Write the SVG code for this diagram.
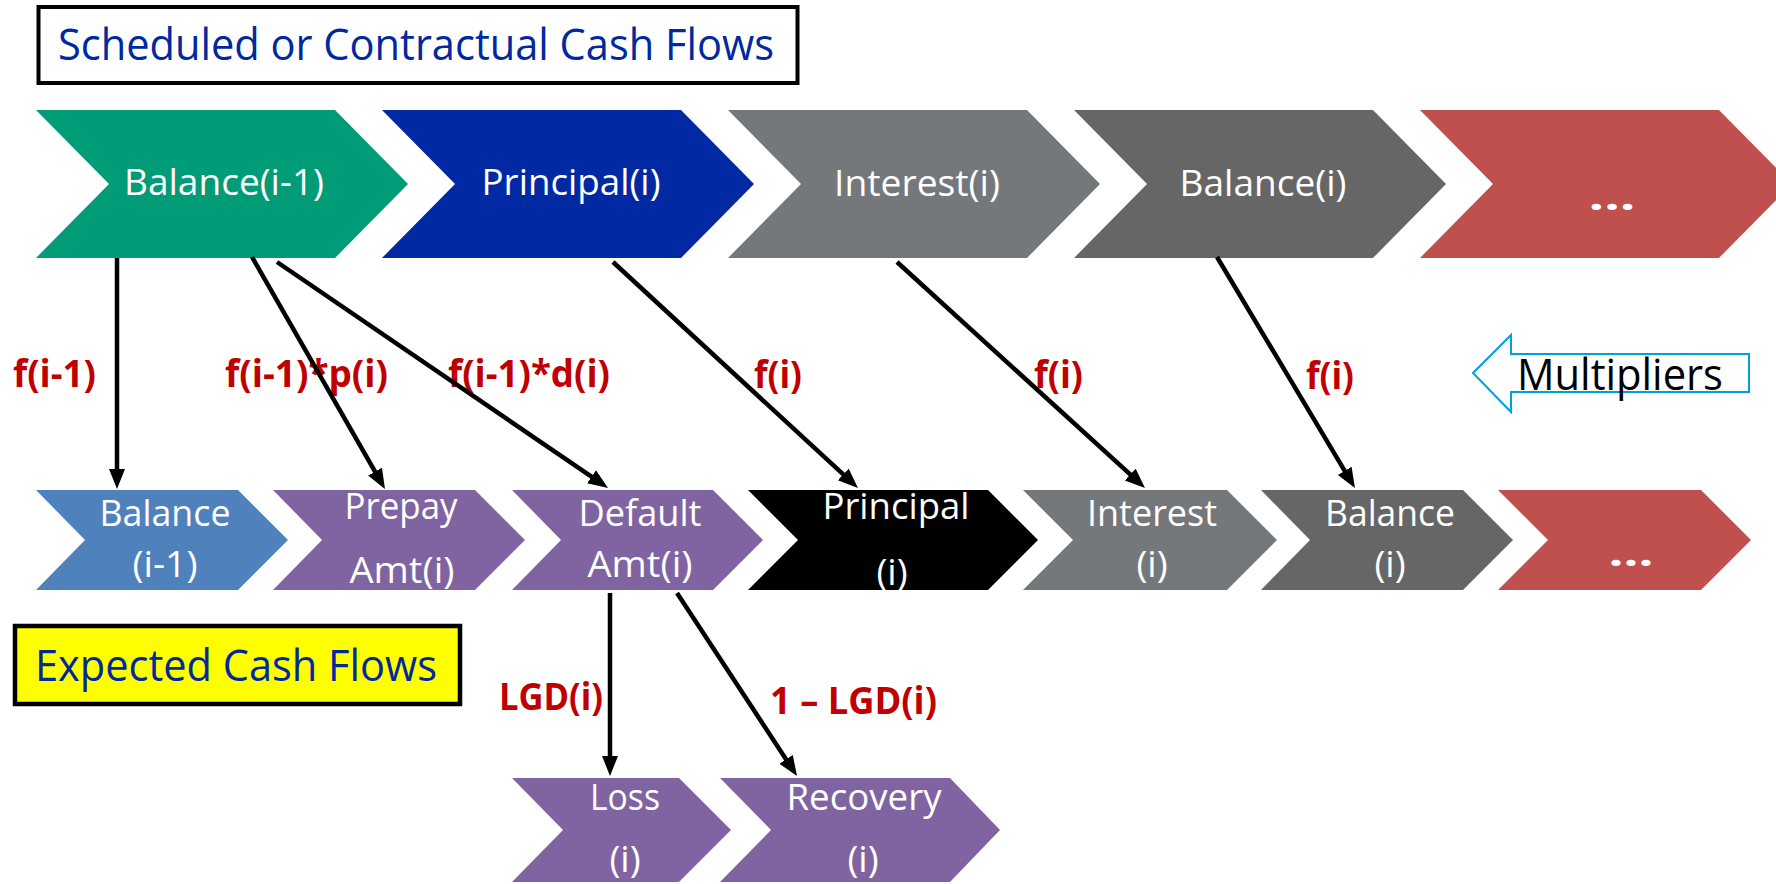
<svg xmlns="http://www.w3.org/2000/svg" width="1776" height="884" viewBox="0 0 1776 884">
<defs>
<style>
.t{font-family:"Open Sans","Liberation Sans",sans-serif;fill:#fff;font-size:37px;text-anchor:middle}
.lbl{font-family:"Open Sans","Liberation Sans",sans-serif;fill:#C00000;font-size:37px;font-weight:bold}
.hdr{font-family:"Open Sans","Liberation Sans",sans-serif;font-size:44px}
.conn{stroke:#000;stroke-width:4.5;fill:none;marker-end:url(#ah)}
</style>
<marker id="ah" markerUnits="userSpaceOnUse" markerWidth="22" markerHeight="18" refX="7" refY="8" orient="auto">
<path d="M0,0 L20,8 L0,16 z" fill="#000"/>
</marker>
</defs>
<rect width="1776" height="884" fill="#fff"/>

<g id="title-scheduled">
<rect x="38.5" y="7" width="759" height="76" fill="#fff" stroke="#000" stroke-width="4"/>
<text class="hdr" x="58" y="60" fill="#0028A0" textLength="716" lengthAdjust="spacingAndGlyphs">Scheduled or Contractual Cash Flows</text>
</g>

<g id="title-expected">
<rect x="15" y="626" width="445" height="78" fill="#FFFF00" stroke="#000" stroke-width="4.5"/>
<text class="hdr" x="35" y="681" fill="#0028A0" textLength="402" lengthAdjust="spacingAndGlyphs">Expected Cash Flows</text>
</g>

<g id="top-balance-prev">
<polygon points="36,110 335,110 408,184 335,258 36,258 109,184" fill="#009B77"/>
<text class="t" x="224" y="195" textLength="200" lengthAdjust="spacingAndGlyphs">Balance(i-1)</text>
</g>
<g id="top-principal">
<polygon points="382,110 681,110 754,184 681,258 382,258 455,184" fill="#0029A3"/>
<text class="t" x="571" y="195" textLength="179" lengthAdjust="spacingAndGlyphs">Principal(i)</text>
</g>
<g id="top-interest">
<polygon points="728,110 1027,110 1100,184 1027,258 728,258 801,184" fill="#75787B"/>
<text class="t" x="917" y="196" textLength="166" lengthAdjust="spacingAndGlyphs">Interest(i)</text>
</g>
<g id="top-balance">
<polygon points="1074,110 1373,110 1446,184 1373,258 1074,258 1147,184" fill="#666666"/>
<text class="t" x="1263" y="196" textLength="167" lengthAdjust="spacingAndGlyphs">Balance(i)</text>
</g>
<g id="top-more">
<polygon points="1420,110 1719,110 1792,184 1719,258 1420,258 1493,184" fill="#C0504D"/>
<text class="t" x="1612" y="210" font-weight="bold" font-size="52" textLength="47" lengthAdjust="spacingAndGlyphs">...</text>
</g>

<g id="multipliers">
<polygon points="1473,373 1511,335 1511,354 1749,354 1749,392 1511,392 1511,412" fill="#fff" stroke="#00A0E0" stroke-width="2"/>
<text x="1517" y="390" font-family="Open Sans, Liberation Sans, sans-serif" font-size="43" fill="#000" textLength="206" lengthAdjust="spacingAndGlyphs">Multipliers</text>
</g>

<g id="exp-balance-prev">
<polygon points="36,490 238,490 288,540 238,590 36,590 85,540" fill="#4F81BD"/>
<text class="t"><tspan x="165" y="526" textLength="131" lengthAdjust="spacingAndGlyphs">Balance</tspan><tspan x="165" y="577" textLength="65" lengthAdjust="spacingAndGlyphs">(i-1)</tspan></text>
</g>
<g id="exp-prepay">
<polygon points="273,490 475,490 525,540 475,590 273,590 322,540" fill="#8064A2"/>
<text class="t"><tspan x="401" y="519" textLength="113" lengthAdjust="spacingAndGlyphs">Prepay</tspan><tspan x="402" y="583" textLength="105" lengthAdjust="spacingAndGlyphs">Amt(i)</tspan></text>
</g>
<g id="exp-default">
<polygon points="512,490 713,490 763,540 713,590 512,590 561,540" fill="#8064A2"/>
<text class="t"><tspan x="640" y="526" textLength="123" lengthAdjust="spacingAndGlyphs">Default</tspan><tspan x="640" y="577" textLength="105" lengthAdjust="spacingAndGlyphs">Amt(i)</tspan></text>
</g>
<g id="exp-principal">
<polygon points="748,490 988,490 1038,540 988,590 748,590 798,540" fill="#000"/>
<text class="t"><tspan x="896" y="519" textLength="147" lengthAdjust="spacingAndGlyphs">Principal</tspan><tspan x="892" y="585">(i)</tspan></text>
</g>
<g id="exp-interest">
<polygon points="1023,490 1227,490 1277,540 1227,590 1023,590 1073,540" fill="#75787B"/>
<text class="t"><tspan x="1152" y="526" textLength="130" lengthAdjust="spacingAndGlyphs">Interest</tspan><tspan x="1152" y="577">(i)</tspan></text>
</g>
<g id="exp-balance">
<polygon points="1261,490 1463,490 1513,540 1463,590 1261,590 1310,540" fill="#666666"/>
<text class="t"><tspan x="1390" y="526" textLength="130" lengthAdjust="spacingAndGlyphs">Balance</tspan><tspan x="1390" y="577">(i)</tspan></text>
</g>
<g id="exp-more">
<polygon points="1498,490 1701,490 1751,540 1701,590 1498,590 1548,540" fill="#C0504D"/>
<text class="t" x="1631" y="566" font-weight="bold" font-size="52" textLength="45" lengthAdjust="spacingAndGlyphs">...</text>
</g>

<g id="loss">
<polygon points="512,778 679,778 731,830 679,882 512,882 563,830" fill="#8064A2"/>
<text class="t"><tspan x="625" y="810" textLength="70" lengthAdjust="spacingAndGlyphs">Loss</tspan><tspan x="625" y="872">(i)</tspan></text>
</g>
<g id="recovery">
<polygon points="720,778 950,778 1000,830 950,882 720,882 771,830" fill="#8064A2"/>
<text class="t"><tspan x="864" y="810" textLength="155" lengthAdjust="spacingAndGlyphs">Recovery</tspan><tspan x="863" y="872">(i)</tspan></text>
</g>

<g id="labels">
<text class="lbl" x="13" y="387" textLength="83" lengthAdjust="spacingAndGlyphs">f(i-1)</text>
<text class="lbl" x="225" y="387" textLength="163" lengthAdjust="spacingAndGlyphs">f(i-1)*p(i)</text>
<text class="lbl" x="448" y="387" textLength="162" lengthAdjust="spacingAndGlyphs">f(i-1)*d(i)</text>
<text class="lbl" x="754" y="388" textLength="48" lengthAdjust="spacingAndGlyphs">f(i)</text>
<text class="lbl" x="1034" y="388" textLength="49" lengthAdjust="spacingAndGlyphs">f(i)</text>
<text class="lbl" x="1306" y="389" textLength="48" lengthAdjust="spacingAndGlyphs">f(i)</text>
<text class="lbl" x="499" y="710" textLength="104" lengthAdjust="spacingAndGlyphs">LGD(i)</text>
<text class="lbl" x="770" y="714" textLength="167" lengthAdjust="spacingAndGlyphs">1 – LGD(i)</text>
</g>

<g id="connectors">
<line class="conn" x1="117" y1="258" x2="117" y2="476"/>
<line class="conn" x1="252" y1="257" x2="378.5" y2="477.7"/>
<line class="conn" x1="277" y1="262" x2="597.3" y2="480.7"/>
<line class="conn" x1="613" y1="262" x2="848.4" y2="479.2"/>
<line class="conn" x1="897" y1="262" x2="1135.4" y2="479.2"/>
<line class="conn" x1="1217" y1="257" x2="1348.3" y2="476.8"/>
<line class="conn" x1="610" y1="593" x2="610" y2="763"/>
<line class="conn" x1="677" y1="593" x2="789.9" y2="765.2"/>
</g>
</svg>
